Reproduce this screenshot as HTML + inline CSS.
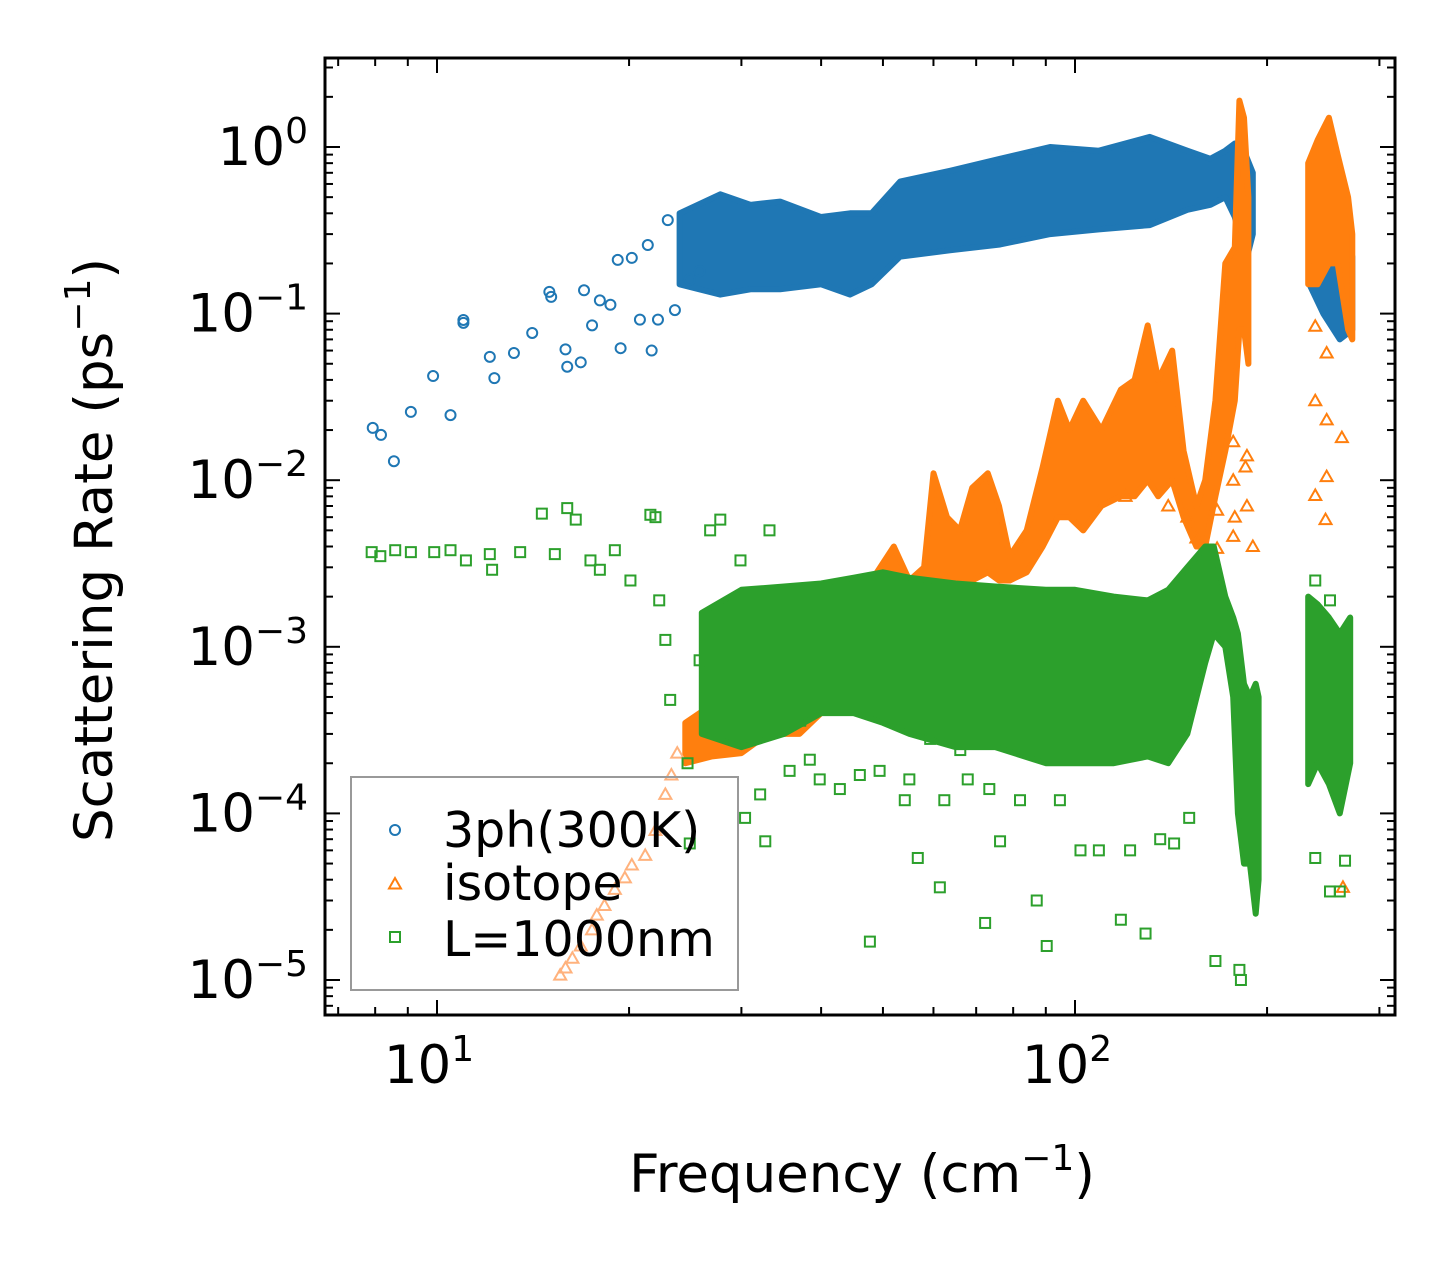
<!DOCTYPE html>
<html><head><meta charset="utf-8"><style>
html,body{margin:0;padding:0;background:#fff;}
body{position:relative;width:1455px;height:1265px;overflow:hidden}
svg{display:block;position:absolute;left:0;top:0;font-family:"DejaVu Sans","Liberation Sans",sans-serif;}
</style></head><body>
<svg id="chart" width="1455" height="1265" viewBox="0 0 1455 1265">
<g id="plot"></g>
<g id="axes"></g>
<text transform="translate(112,550) rotate(-90)" font-size="53" text-anchor="middle">Scattering Rate (ps<tspan dy="-22" font-size="36">−1</tspan><tspan dy="22">)</tspan></text>
<text x="862" y="1192" font-size="53" text-anchor="middle">Frequency (cm<tspan dy="-22" font-size="36">−1</tspan><tspan dy="22">)</tspan></text>
<g font-size="49">
<rect x="351" y="777" width="387" height="213" fill="none" stroke="#999" stroke-width="2"/>
<g><circle cx="395" cy="830" r="5" fill="none" stroke="#1f77b4" stroke-width="2"/><text x="443" y="847">3ph(300K)</text></g>
<g><polygon points="395,878 389,888.5 401,888.5" fill="none" stroke="#ff7f0e" stroke-width="2"/><text x="443" y="900">isotope</text></g>
<g><rect x="390" y="932" width="10" height="10" fill="none" stroke="#2ca02c" stroke-width="2"/><text x="443" y="956">L=1000nm</text></g>
</g>
</svg>
<script>
// ---- data ----
const blueFreq=[7.93,8.17,8.56,9.1,9.86,10.5,11.0,11.0,12.1,12.3,13.2,14.1,15.0,15.1,15.9,16.0,16.8,17.0,17.5,18.0,18.7,19.2,19.4,20.2,20.8,21.4,21.7,22.2,23.0,23.6,24.9,25.8];
const blueRate=[0.0206,0.0187,0.013,0.0257,0.0422,0.0246,0.0916,0.088,0.055,0.041,0.058,0.0765,0.135,0.126,0.061,0.048,0.051,0.138,0.085,0.12,0.113,0.21,0.062,0.216,0.092,0.258,0.06,0.092,0.364,0.105,0.16,0.18];
const blueBandA=[[24,0.15,0.40],[27.8,0.13,0.52],[31,0.14,0.45],[34.5,0.14,0.47],[40,0.15,0.38],[44.4,0.13,0.40],[48,0.15,0.40],[53.2,0.22,0.62],[63.7,0.24,0.72],[76.3,0.26,0.85],[91.4,0.30,1.0],[109,0.32,0.95],[131,0.34,1.15],[150,0.42,0.95],[163,0.45,0.85],[172,0.5,0.95],[178,0.38,1.05],[185,0.2,0.9],[190,0.3,0.7]];
const blueBandB=[[233,0.15,0.40],[245,0.1,0.35],[260,0.07,0.25],[272,0.08,0.22]];

const isoLightFreq=[15.6,15.9,16.3,16.8,17.5,17.8,18.3,19.0,19.7,20.2,21.2,22.0,22.8,23.3,23.8];
const isoLightRate=[1.07e-5,1.18e-5,1.35e-5,1.6e-5,2.0e-5,2.45e-5,2.8e-5,3.5e-5,4.1e-5,4.9e-5,5.6e-5,7.9e-5,1.3e-4,1.7e-4,2.3e-4];
const isoBandA=[[24.5,2.0e-4,3.5e-4],[27,2.2e-4,4.5e-4],[30,2.3e-4,5e-4],[33,3e-4,5.5e-4],[37,3e-4,6e-4],[40,4e-4,1.0e-3],[44,5e-4,1.5e-3],[48,6e-4,2.5e-3],[52,8e-4,4e-3],[55,1e-3,2.5e-3],[58,1.2e-3,3e-3],[60,1.5e-3,1.1e-2],[63,2e-3,6e-3],[66,2.5e-3,5e-3],[69,2.5e-3,9e-3],[73,2.8e-3,1.1e-2],[76,2.5e-3,7e-3],[79,2.5e-3,3.5e-3],[84,2.8e-3,5e-3],[89,4e-3,1.2e-2],[94,6e-3,3.0e-2],[98,6e-3,2e-2],[103,5e-3,3e-2],[110,7e-3,2e-2],[118,8e-3,3.5e-2],[124,8e-3,4e-2],[130,1e-2,8.5e-2],[135,8e-3,4e-2],[142,1e-2,6e-2],[148,6e-3,1.5e-2],[155,4e-3,7e-3],[160,4e-3,1.0e-2],[166,8e-3,3e-2],[172,1.5e-2,0.2],[178,3e-2,0.25],[181,0.08,1.9],[184,0.08,1.5],[187,0.05,0.5]];
const isoBandB=[[232,0.15,0.8],[240,0.15,1.1],[250,0.2,1.5],[258,0.2,0.9],[268,0.08,0.5],[272,0.07,0.3]];
const isoFreq=[177,177,178,177,167,167,185,186,190,186,238,248,238,248,262,238,248,247,263,150,140,120,155];
const isoRate=[0.017,0.01,0.006,0.0046,0.0066,0.0039,0.012,0.007,0.004,0.014,0.084,0.058,0.030,0.023,0.018,8.1e-3,0.0105,5.8e-3,3.6e-5,6e-3,7e-3,8e-3,4.5e-3];

const bndFreq=[7.9,8.15,8.6,9.1,9.9,10.5,11.1,12.1,12.2,13.5,14.6,15.3,16.0,16.5,17.4,18.0,19.0,20.1,21.6,22.0,22.3,22.8,23.2,24.9,24.7,25.8,26.8,27.8,29.9,30.4,30.9,32.1,32.7,33.2,35.7,37.1,38.4,39.8,42.8,46.0,47.7,49.4,53.2,54.1,55.0,56.7,59.3,61.4,62.4,66.1,67.9,72.3,73.4,76.3,82.0,87.1,90.3,94.7,102,109,118,122,129,136,143,151,166,181,182,238,251,260,265,238,251];
const bndRate=[3.7e-3,3.5e-3,3.8e-3,3.7e-3,3.7e-3,3.8e-3,3.3e-3,3.6e-3,2.9e-3,3.7e-3,6.3e-3,3.6e-3,6.8e-3,5.8e-3,3.3e-3,2.9e-3,3.8e-3,2.5e-3,6.2e-3,6.0e-3,1.9e-3,1.1e-3,4.8e-4,6.6e-5,2.0e-4,8.3e-4,5.0e-3,5.8e-3,3.3e-3,9.4e-5,2.8e-4,1.3e-4,6.8e-5,5.0e-3,1.8e-4,3.6e-4,2.1e-4,1.6e-4,1.4e-4,1.7e-4,1.7e-5,1.8e-4,3.6e-4,1.2e-4,1.6e-4,5.4e-5,2.8e-4,3.6e-5,1.2e-4,2.4e-4,1.6e-4,2.2e-5,1.4e-4,6.8e-5,1.2e-4,3.0e-5,1.6e-5,1.2e-4,6.0e-5,6.0e-5,2.3e-5,6e-5,1.9e-5,7e-5,6.6e-5,9.4e-5,1.3e-5,1.15e-5,1.0e-5,5.4e-5,3.4e-5,3.4e-5,5.2e-5,2.5e-3,1.9e-3];
const bndBandA=[[26,3.0e-4,1.6e-3],[30,2.5e-4,2.2e-3],[35,3e-4,2.3e-3],[40,4e-4,2.4e-3],[45,4e-4,2.6e-3],[50,3.5e-4,2.8e-3],[55,3e-4,2.6e-3],[65,2.5e-4,2.4e-3],[75,2.5e-4,2.3e-3],[90,2.0e-4,2.2e-3],[100,2e-4,2.2e-3],[115,2e-4,2.0e-3],[130,2.2e-4,1.9e-3],[140,2e-4,2.2e-3],[150,3e-4,3e-3],[160,8e-4,4e-3],[165,1.2e-3,4e-3],[172,1.0e-3,2.0e-3],[177,5e-4,1.5e-3],[180,1e-4,1.2e-3],[184,5e-5,6e-4],[188,5e-5,5e-4],[192,2.5e-5,6e-4],[194,4e-5,5e-4]];
const bndBandB=[[232,1.5e-4,2e-3],[240,2e-4,1.8e-3],[250,1.5e-4,1.5e-3],[260,1e-4,1.2e-3],[270,2e-4,1.5e-3]];

const xTickVals=[10,100];
const xTickExp=["1","2"];
const yTickVals=[1,0.1,0.01,0.001,1e-4,1e-5];
const yTickExp=["0","−1","−2","−3","−4","−5"];

// ---- geometry ----
const L=325,R=1395,T=58,B=1015;
const X=f=>437+638*(Math.log10(f)-1);
const Y=r=>147-166.6*Math.log10(r);
const NS="http://www.w3.org/2000/svg";
const plot=document.getElementById('plot');
const axes=document.getElementById('axes');
function mk(tag,attrs,parent){const e=document.createElementNS(NS,tag);for(const k in attrs)e.setAttribute(k,attrs[k]);parent.appendChild(e);return e;}

const defs=mk('defs',{},plot);
const cp=mk('clipPath',{id:'clip'},defs);
mk('rect',{x:L,y:T,width:R-L,height:B-T},cp);
const g=mk('g',{'clip-path':'url(#clip)'},plot);

function band(arr,color,name){
  let pts=arr.map(d=>X(d[0]).toFixed(1)+','+Y(d[2]).toFixed(1));
  pts=pts.concat(arr.slice().reverse().map(d=>X(d[0]).toFixed(1)+','+Y(d[1]).toFixed(1)));
  const p=mk('polygon',{points:pts.join(' '),fill:color,stroke:color,'stroke-width':6,'stroke-linejoin':'round'},g);
  
  
}
function circles(fs,rs,color,name){
  fs.forEach((f,i)=>{const c=mk('circle',{cx:X(f),cy:Y(rs[i]),r:5,fill:'none',stroke:color,'stroke-width':2},g);
  
  });
}
function tris(fs,rs,color,name){
  fs.forEach((f,i)=>{const x=X(f),y=Y(rs[i]);const t=mk('polygon',{points:`${x},${y-6} ${x-6},${y+4.5} ${x+6},${y+4.5}`,fill:'none',stroke:color,'stroke-width':2},g);
  
  });
}
function squares(fs,rs,color,name){
  fs.forEach((f,i)=>{const s=mk('rect',{x:X(f)-5,y:Y(rs[i])-5,width:10,height:10,fill:'none',stroke:color,'stroke-width':2},g);
  
  });
}
const C1='#1f77b4',C2='#ff7f0e',C3='#2ca02c',C2L='#ffb27d';
band(blueBandA,C1,'3ph-dense-band');
band(blueBandB,C1,'3ph-dense-band-high');
circles(blueFreq,blueRate,C1,'3ph-point');
band(isoBandA,C2,'isotope-dense-band');
band(isoBandB,C2,'isotope-dense-band-high');
tris(isoLightFreq,isoLightRate,C2L,'isotope-low-point');
tris(isoFreq,isoRate,C2,'isotope-point');
band(bndBandA,C3,'boundary-dense-band');
band(bndBandB,C3,'boundary-dense-band-high');
squares(bndFreq,bndRate,C3,'boundary-point');

// ---- axes ----
const fr=mk('rect',{x:L,y:T,width:R-L,height:B-T,fill:'none',stroke:'#000','stroke-width':3},axes);


function tick(x1,y1,x2,y2,name){const l=mk('line',{x1,y1,x2,y2,stroke:'#000','stroke-width':2},axes);
  
  }
for(let d=1;d<=100;d*=10){for(let m=1;m<10;m++){const v=d*m;const x=X(v);if(x<L||x>R)continue;const len=(m===1)?15:8;
  tick(x,B,x,B-len,'x-tick');tick(x,T,x,T+len,'x-tick-top');}}
for(let e=-6;e<=0;e++){for(let m=1;m<10;m++){const v=m*Math.pow(10,e);const y=Y(v);if(y<T||y>B)continue;const len=(m===1)?15:8;
  tick(L,y,L+len,y,'y-tick');tick(R,y,R-len,y,'y-tick-right');}}
xTickVals.forEach((v,i)=>{const t=mk('text',{x:X(v)-8,y:1083,'font-size':53,'text-anchor':'middle'},axes);
  
  
  t.textContent='10';const s=mk('tspan',{dy:-22,'font-size':36},t);s.textContent=xTickExp[i];});
yTickVals.forEach((v,i)=>{const t=mk('text',{x:308,y:Y(v)+18,'font-size':53,'text-anchor':'end'},axes);
  
  
  const a=mk('tspan',{},t);a.textContent='10';const s=mk('tspan',{dy:-22,'font-size':36},t);s.textContent=yTickExp[i];});
</script>
</body></html>
